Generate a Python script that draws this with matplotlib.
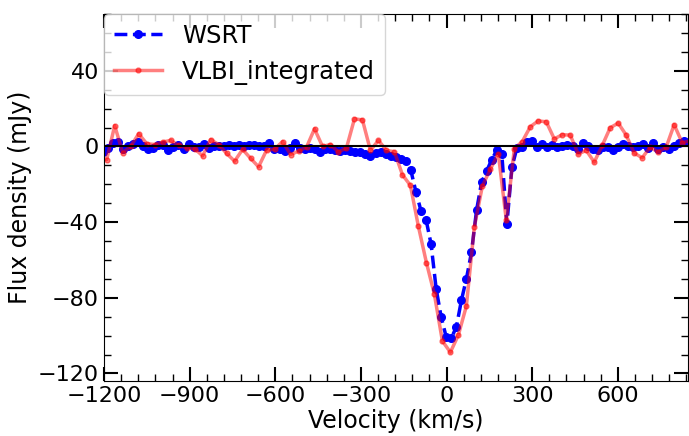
import matplotlib
matplotlib.use('Agg')
import matplotlib.pyplot as plt
from matplotlib.ticker import MultipleLocator

# WSRT spectrum (velocity km/s, flux mJy)
wsrt_vel = [-1204.6, -1186.9, -1169.2, -1151.5, -1133.8, -1116.1, -1098.4, -1080.7,
            -1063.0, -1045.3, -1027.6, -1009.9, -992.2, -974.5, -956.8, -939.1,
            -921.4, -903.7, -886.0, -868.3, -850.6, -832.9, -815.2, -797.5,
            -779.8, -762.1, -744.4, -726.7, -709.0, -691.3, -673.6, -655.9,
            -638.2, -620.5, -602.8, -585.1, -567.4, -549.7, -532.0, -514.3,
            -496.6, -478.9, -461.2, -443.5, -425.8, -408.1, -390.4, -372.7,
            -355.0, -337.3, -319.6, -301.9, -284.2, -266.5, -248.8, -231.1,
            -213.4, -195.7, -178.0, -160.3, -142.6, -124.9, -107.2, -89.5,
            -71.8, -54.1, -36.4, -18.7, -1.0, 16.7, 34.4, 52.1,
            69.8, 87.5, 105.2, 122.9, 140.6, 158.3, 176.0, 193.7,
            211.4, 229.1, 246.8, 264.5, 282.2, 299.9, 317.6, 335.3,
            353.0, 370.7, 388.4, 406.1, 423.8, 441.5, 459.2, 476.9,
            494.6, 512.3, 530.0, 547.7, 565.4, 583.1, 600.8, 618.5,
            636.2, 653.9, 671.6, 689.3, 707.0, 724.7, 742.4, 760.1,
            777.8, 795.5, 813.2, 830.9, 848.6]
wsrt_flux = [-3.0, -0.9, 2.0, 2.6, -1.2, 0.2, 1.4, 2.3,
             0.2, -1.2, -0.9, 0.9, 0.5, -2.1, -0.4, 0.5,
             -1.2, 1.4, -0.4, -0.4, 1.4, -0.9, 0.2, 0.0,
             0.3, 0.5, 0.0, 0.9, 0.3, 0.9, 0.9, 0.0,
             0.3, 2.0, -1.2, -1.2, -2.6, -1.0, 2.0, -1.0,
             -1.2, -0.8, -1.2, -3.0, -1.2, -1.2, -1.7, -2.4,
             -2.0, -2.4, -3.0, -3.0, -3.9, -4.8, -3.5, -3.0,
             -3.9, -4.8, -5.6, -6.5, -7.5, -12.7, -24.0, -34.0,
             -38.7, -51.6, -75.2, -90.2, -100.8, -101.3, -95.5, -81.4,
             -69.9, -55.9, -33.8, -18.9, -13.0, -7.0, -2.1, -3.9,
             -41.2, -11.0, -0.7, -0.3, 2.3, 3.0, -0.3, 1.4,
             -0.3, 0.5, -0.4, 0.3, 1.0, 0.0, -1.2, 1.7,
             0.0, -1.4, -2.1, -0.3, -0.5, -2.1, -0.3, 1.2,
             0.3, -0.4, 0.0, 1.4, -0.7, 1.7, -1.2, -0.4,
             -1.2, 0.3, 1.7, 2.8, 2.3]

# VLBI integrated spectrum
vlbi_vel = [-1218.5, -1190.5, -1162.5, -1134.5, -1106.5, -1078.5, -1050.5, -1022.5,
            -994.5, -966.5, -938.5, -910.5, -882.5, -854.5, -826.5, -798.5,
            -770.5, -742.5, -714.5, -686.5, -658.5, -630.5, -602.5, -574.5,
            -546.5, -518.5, -490.5, -462.5, -434.5, -406.5, -378.5, -350.5,
            -322.5, -294.5, -266.5, -238.5, -210.5, -182.5, -154.5, -126.5,
            -98.5, -70.5, -42.5, -14.5, 13.5, 41.5, 69.5, 97.5,
            125.5, 153.5, 181.5, 209.5, 237.5, 265.5, 293.5, 321.5,
            349.5, 377.5, 405.5, 433.5, 461.5, 489.5, 517.5, 545.5,
            573.5, 601.5, 629.5, 657.5, 685.5, 713.5, 741.5, 769.5,
            797.5, 825.5, 853.5]
vlbi_flux = [-5.0, -7.0, 11.0, -3.3, 0.0, 6.7, 1.5, 1.0,
             2.3, 3.2, 0.5, -0.7, -1.2, -5.0, 3.6, 1.0,
             -3.7, -7.8, -1.6, -6.3, -10.8, -2.0, -1.5, 2.6,
             -4.3, -2.5, -0.4, 9.3, 0.0, 1.0, -3.0, -0.8,
             14.6, 14.0, -2.1, 3.2, -2.1, -2.8, -15.0, -20.6,
             -42.3, -61.4, -78.2, -102.9, -108.8, -99.7, -84.4, -42.6,
             -21.0, -12.0, -3.9, -39.0, -1.2, 2.6, 10.4, 13.5,
             13.0, 4.0, 6.2, 6.0, -4.0, -2.1, -8.3, 0.5,
             9.9, 12.3, 6.0, -3.5, -6.0, -0.4, -3.0, -0.4,
             11.5, 2.0, 3.0]

x_ticks = [-1200, -900, -600, -300, 0, 300, 600]
y_ticks = [-120, -80, -40, 0, 40]

fig = plt.figure(figsize=(6.89, 4.36), dpi=100)
ax = fig.add_axes([104 / 689, 1 - 381 / 436, 584 / 689, 367 / 436])

ax.plot(wsrt_vel, wsrt_flux, color='blue', ls='--', lw=2.5, marker='o', ms=5.5,
        label='WSRT')
ax.plot(vlbi_vel, vlbi_flux, color='red', ls='-', lw=2.5, marker='.', ms=7,
        alpha=0.5, label='VLBI_integrated')
ax.axhline(0, color='black', lw=1.5, zorder=5)

ax.set_xlim(-1200, 846)
ax.set_ylim(-124, 70)
ax.set_xticks(x_ticks)
ax.set_yticks(y_ticks)
ax.xaxis.set_minor_locator(MultipleLocator(60))
ax.yaxis.set_minor_locator(MultipleLocator(10))
ax.tick_params(which='both', direction='in', top=True, right=True, labelsize=16)
ax.tick_params(which='major', length=10, width=1.5)
ax.tick_params(which='minor', length=5, width=1)

ax.set_xlabel('Velocity (km/s)', fontsize=17, labelpad=2)
ax.set_ylabel('Flux density (mJy)', fontsize=17)
ax.legend(loc='upper left', fontsize=17.5, borderaxespad=0.0)

fig.savefig('out.png', dpi=100)
